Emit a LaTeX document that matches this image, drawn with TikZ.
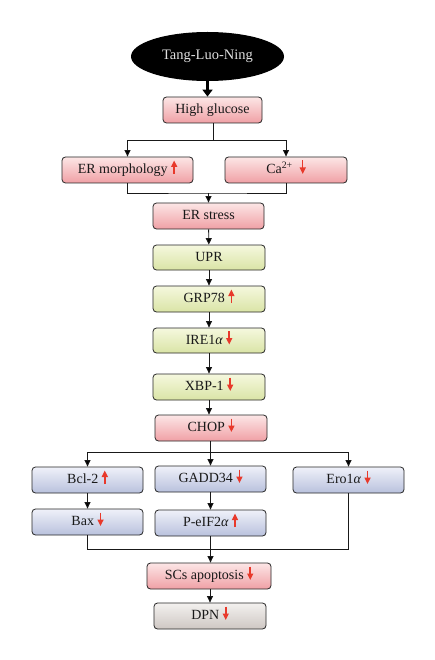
\documentclass[tikz,border=0pt]{standalone}
\usepackage{fontspec}
\setmainfont{Liberation Serif}
\usetikzlibrary{arrows.meta,shapes.geometric}
\definecolor{arr}{HTML}{E8392B}
\definecolor{pinkT}{HTML}{FCE6E6}
\definecolor{pinkB}{HTML}{F0A0A5}
\definecolor{greenT}{HTML}{F5F8DE}
\definecolor{greenB}{HTML}{DAE4A6}
\definecolor{blueT}{HTML}{EFF1F9}
\definecolor{blueB}{HTML}{B9C1DD}
\definecolor{greyT}{HTML}{F3F1EF}
\definecolor{greyB}{HTML}{CEC7C3}
\newcommand\uparr{\tikz[baseline=0pt]\draw[arr,line width=1.5pt,-{Triangle[width=6pt,length=6.5pt]}] (0,-0.5pt) -- (0,13pt);}
\newcommand\dnarr{\tikz[baseline=0pt]\draw[arr,line width=1.5pt,-{Triangle[width=6pt,length=6.5pt]}] (0,13pt) -- (0,-0.5pt);}
\tikzset{
  box/.style={draw=black!85,line width=0.8pt,rounded corners=3.5pt,minimum height=26pt,inner sep=0pt,
    font=\fontsize{14}{16}\selectfont,text height=9.5pt,text depth=2.5pt,text=black!90},
  pinkb/.style={box,top color=pinkT,bottom color=pinkB},
  greenb/.style={box,top color=greenT,bottom color=greenB},
  blueb/.style={box,top color=blueT,bottom color=blueB},
  greyb/.style={box,top color=greyT,bottom color=greyB},
  conn/.style={draw=black!90,line width=0.9pt},
  arrw/.style={conn,-{Triangle[length=6.5pt,width=6pt]}},
}
\begin{document}
\begin{tikzpicture}[x=1pt,y=-1pt]
\useasboundingbox[fill=white] (0,0) rectangle (435,660);
\node[ellipse,fill=black,minimum width=153pt,minimum height=49pt,inner sep=0pt,
  text=black!12,font=\fontsize{14.5}{16}\selectfont] (TLN) at (207.5,56.5) {Tang-Luo-Ning};
\node[pinkb,minimum width=99pt] (HG) at (212.5,110) {High glucose};
\node[pinkb,minimum width=131pt] (ERm) at (127.5,170) {ER morphology \uparr};
\node[pinkb,minimum width=122pt] (Ca) at (286,170) {Ca\textsuperscript{2+} \ \dnarr};
\node[pinkb,minimum width=111pt] (ERs) at (208.5,216) {ER stress};
\node[greenb,minimum width=112pt,minimum height=25pt] (UPR) at (209,257.5) {UPR};
\node[greenb,minimum width=112pt] (GRP) at (209,299) {GRP78 \uparr};
\node[greenb,minimum width=112pt,minimum height=25pt] (IRE) at (209,340.5) {IRE1{\itshape α} \dnarr};
\node[greenb,minimum width=112pt] (XBP) at (209,387) {XBP-1 \dnarr};
\node[pinkb,minimum width=112pt] (CHOP) at (211,428) {CHOP \dnarr};
\node[blueb,minimum width=111pt] (Bcl) at (87.5,480) {Bcl-2 \uparr};
\node[blueb,minimum width=111pt] (GADD) at (210.5,479) {GADD34 \dnarr};
\node[blueb,minimum width=111pt] (Ero) at (348.5,480) {Ero1{\itshape α} \dnarr};
\node[blueb,minimum width=111pt] (Bax) at (87.5,522) {Bax \dnarr};
\node[blueb,minimum width=111pt] (PeIF) at (210.5,523) {P-eIF2{\itshape α} \uparr};
\node[pinkb,minimum width=124pt] (SCs) at (209,576) {SCs apoptosis \dnarr};
\node[greyb,minimum width=112pt] (DPN) at (210,616) {DPN \dnarr};
% connectors
\draw[line width=3.5pt,-{Triangle[length=7pt,width=10pt]}] (TLN.south) -- (TLN.south |- HG.north);
\coordinate (b1) at (213,140);
\draw[conn] (HG.south -| b1) -- (b1);
\draw[arrw] (b1) -| (ERm.north);
\draw[arrw] (b1) -| (Ca.north);
\coordinate (m1) at (208.5,193);
\draw[conn] (ERm.south) |- (m1) -| (Ca.south);
\draw[arrw] (m1) -- (ERs.north);
\draw[arrw] (ERs) -- (UPR);
\draw[arrw] (UPR) -- (GRP);
\draw[arrw] (GRP) -- (IRE);
\draw[arrw] (IRE) -- (XBP);
\draw[arrw] (XBP.south) -- (XBP.south |- CHOP.north);
\coordinate (b2) at (210.5,452);
\draw[conn] (CHOP.south -| b2) -- (b2);
\draw[arrw] (b2) -| (Bcl.north);
\draw[arrw] (b2) -| (Ero.north);
\draw[arrw] (b2) -- (GADD.north);
\draw[arrw] (Bcl) -- (Bax);
\draw[arrw] (GADD) -- (PeIF);
\coordinate (m2) at (210.5,549);
\draw[conn] (Bax.south) |- (m2);
\draw[conn] (Ero.south) |- (m2);
\draw[arrw] (PeIF.south) -- (PeIF.south |- SCs.north);
\draw[arrw] (SCs.south -| DPN.north) -- (DPN.north);
\end{tikzpicture}
\end{document}
